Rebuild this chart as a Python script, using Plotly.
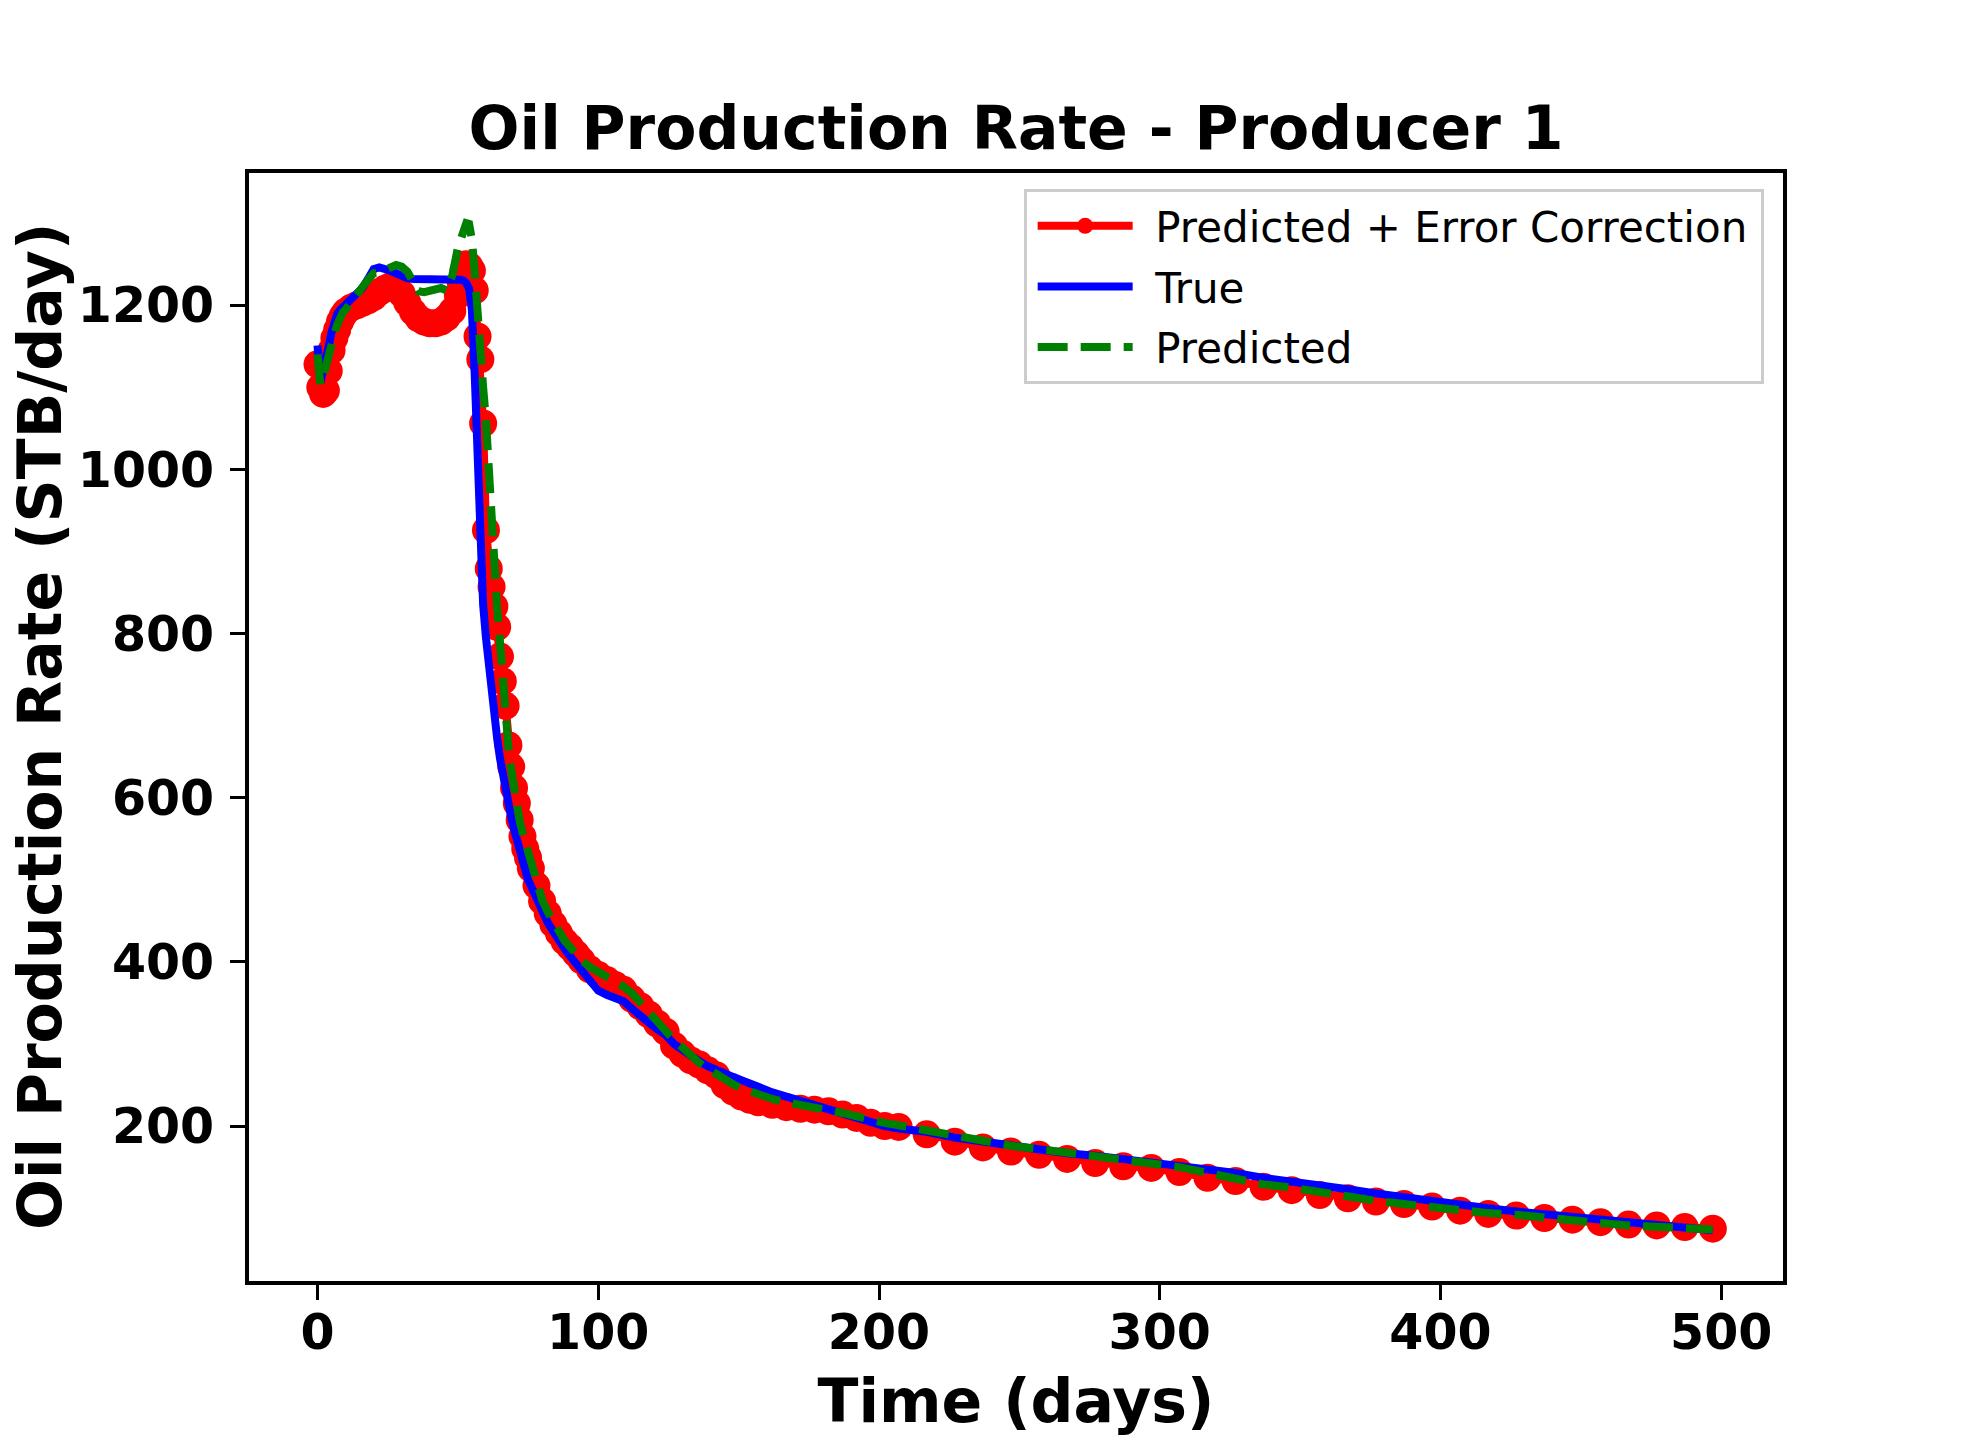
import plotly.graph_objects as go

days = [0, 1, 2, 3, 4, 5, 6, 7, 8, 9, 10, 12, 14, 16, 18, 20, 22, 24, 26, 28, 30, 32, 34, 36, 38, 40, 42, 44, 46, 48,
        50, 51, 52, 53, 54, 55, 56, 57, 58, 59, 60, 61, 62, 63, 64, 65, 66, 67, 68, 69, 70, 71, 72, 73, 74, 75, 76,
        78, 80, 82, 84, 86, 88, 90, 92, 94, 97, 100, 103, 106, 109, 112, 115, 118, 121, 124, 127, 130, 133, 136,
        139, 142, 145, 148, 151, 154, 157, 162, 167, 172, 177, 182, 187, 192, 197, 202, 207, 217, 227, 237, 247,
        257, 267, 277, 287, 297, 307, 317, 327, 337, 347, 357, 367, 377, 387, 397, 407, 417, 427, 437, 447, 457,
        467, 477, 487, 497]

true_rate = [1151, 1105, 1122, 1134, 1150, 1167, 1181, 1189, 1194, 1197, 1200, 1207, 1214, 1221, 1232, 1244, 1246,
             1245, 1242, 1239, 1235, 1233, 1232, 1232, 1232, 1232, 1232, 1232, 1233, 1233, 1232, 1231, 1230, 1227,
             1220, 1194, 1115, 1015, 915, 835, 795, 758, 725, 700, 672, 648, 627, 608, 592, 576, 562, 550, 537, 523,
             508, 500, 493, 476, 460, 448, 437, 425, 416, 407, 399, 389, 377, 365, 360, 356, 352, 343, 333, 326, 318,
             311, 300, 292, 285, 279, 273, 268, 264, 260, 256, 251, 248, 241, 236, 231, 226, 221, 215, 209, 204, 200,
             197, 193, 186, 181, 175, 171, 167, 164, 160, 157, 153, 148, 143, 137, 133, 128, 123, 118, 113, 108, 104,
             100, 96, 93, 89, 86, 82, 79, 76, 73]

predicted = [1140, 1103, 1112, 1128, 1140, 1152, 1165, 1176, 1185, 1191, 1195, 1203, 1212, 1222, 1231, 1239, 1240,
             1243, 1246, 1249, 1247, 1241, 1229, 1217, 1216, 1218, 1220, 1221, 1218, 1236, 1270, 1283, 1295, 1300,
             1299, 1280, 1240, 1185, 1135, 1100, 1060, 990, 930, 880, 830, 790, 735, 695, 662, 635, 608, 590, 572,
             558, 545, 532, 522, 497, 476, 461, 448, 436, 426, 418, 410, 402, 394, 388, 384, 378, 370, 362, 350, 337,
             326, 316, 305, 295, 285, 277, 270, 263, 257, 251, 246, 242, 238, 233, 229, 226, 224, 220, 216, 212, 207,
             204, 201, 195, 188, 181, 176, 172, 168, 163, 160, 155, 150, 143, 136, 129, 125, 119, 114, 109, 105, 101,
             98, 94, 92, 88, 85, 82, 79, 77, 75, 74]

corrected = [1128, 1100, 1092, 1096, 1120, 1145, 1160, 1170, 1180, 1187, 1192, 1197, 1200, 1203, 1206, 1210, 1216,
             1220, 1223, 1223, 1214, 1203, 1192, 1184, 1180, 1178, 1178, 1180, 1185, 1193, 1212, 1228, 1242, 1250,
             1248, 1242, 1218, 1162, 1134, 1056, 926, 879, 857, 833, 808, 772, 742, 712, 664, 638, 612, 593, 573,
             553, 538, 527, 514, 493, 474, 459, 446, 435, 425, 418, 410, 402, 391, 384, 378, 372, 366, 355, 346, 336,
             325, 315, 298, 288, 280, 275, 268, 262, 250, 242, 236, 232, 229, 226, 223, 221, 220, 218, 214, 210, 204,
             200, 199, 190, 181, 174, 169, 165, 160, 155, 151, 149, 144, 137, 133, 126, 122, 116, 112, 108, 105, 102,
             97, 93, 91, 88, 86, 83, 80, 79, 77, 75]

x_ticks = [0, 100, 200, 300, 400, 500]
y_ticks = [200, 400, 600, 800, 1000, 1200]

FONT = "DejaVu Sans"
GAP = "\u00a0\u200a"

W, H = 1980, 1440
ML, MR, MT, MB = 249, 197, 173, 159
PLOT_W = W - ML - MR

fig = go.Figure()
fig.add_trace(go.Scatter(
    x=days, y=corrected, mode="lines+markers", name=GAP + "Predicted + Error Correction\u2009",
    line=dict(color="#ff0000", width=8), marker=dict(color="#ff0000", size=28),
    legendgroup="a"))
fig.add_trace(go.Scatter(
    x=days, y=true_rate, mode="lines", name=GAP + "True",
    line=dict(color="#0000ff", width=8), legendgroup="b"))
fig.add_trace(go.Scatter(
    x=days, y=predicted, mode="lines", name=GAP + "Predicted",
    line=dict(color="#008000", width=8, dash="30px,13px"), legendgroup="c"))

axis_common = dict(
    showline=True, linecolor="black", linewidth=4, mirror=True,
    ticks="outside", ticklen=15, tickwidth=3, tickcolor="black",
    showgrid=False, zeroline=False, automargin=False,
    tickfont=dict(family=FONT, size=49, color="black", weight="bold"),
)

fig.update_layout(
    width=W, height=H, autosize=False,
    margin=dict(l=ML, r=MR, t=MT, b=MB, pad=0),
    paper_bgcolor="white", plot_bgcolor="white",
    title=dict(text="Oil Production Rate - Producer 1",
               x=(ML + PLOT_W / 2) / W, xanchor="center",
               y=1 - 127.6 / H, yanchor="middle",
               font=dict(family=FONT, size=60, color="black", weight="bold")),
    xaxis=dict(range=[-24.4, 522.0], tickvals=x_ticks, ticktext=[str(v) for v in x_ticks],
               ticklabelstandoff=-10,
               title=dict(text="Time (days)", standoff=21,
                          font=dict(family=FONT, size=60, color="black", weight="bold")),
               **axis_common),
    yaxis=dict(range=[11.3, 1361.1], tickvals=y_ticks, ticktext=[str(v) for v in y_ticks],
               ticklabelstandoff=6,
               **axis_common),
    legend=dict(x=0.9874, y=0.9855, xanchor="right", yanchor="top",
                bgcolor="rgba(255,255,255,0.8)", bordercolor="#cccccc", borderwidth=3,
                font=dict(family=FONT, size=42, color="black"),
                itemwidth=95, tracegroupgap=3, indentation=6),
    showlegend=True,
)

# y-axis title placed as a rotated annotation so it sits at the reference position
fig.add_annotation(
    text="Oil Production Rate (STB/day)", textangle=-90,
    xref="paper", yref="paper", x=(40 - ML) / PLOT_W, y=0.5,
    xanchor="center", yanchor="middle", showarrow=False,
    font=dict(family=FONT, size=60, color="black", weight="bold"),
)

# remove the default page margin so the figure fills the window exactly
fig.write_html("out.html", config={"displayModeBar": False},
               post_script="document.body.style.margin='0px';")
